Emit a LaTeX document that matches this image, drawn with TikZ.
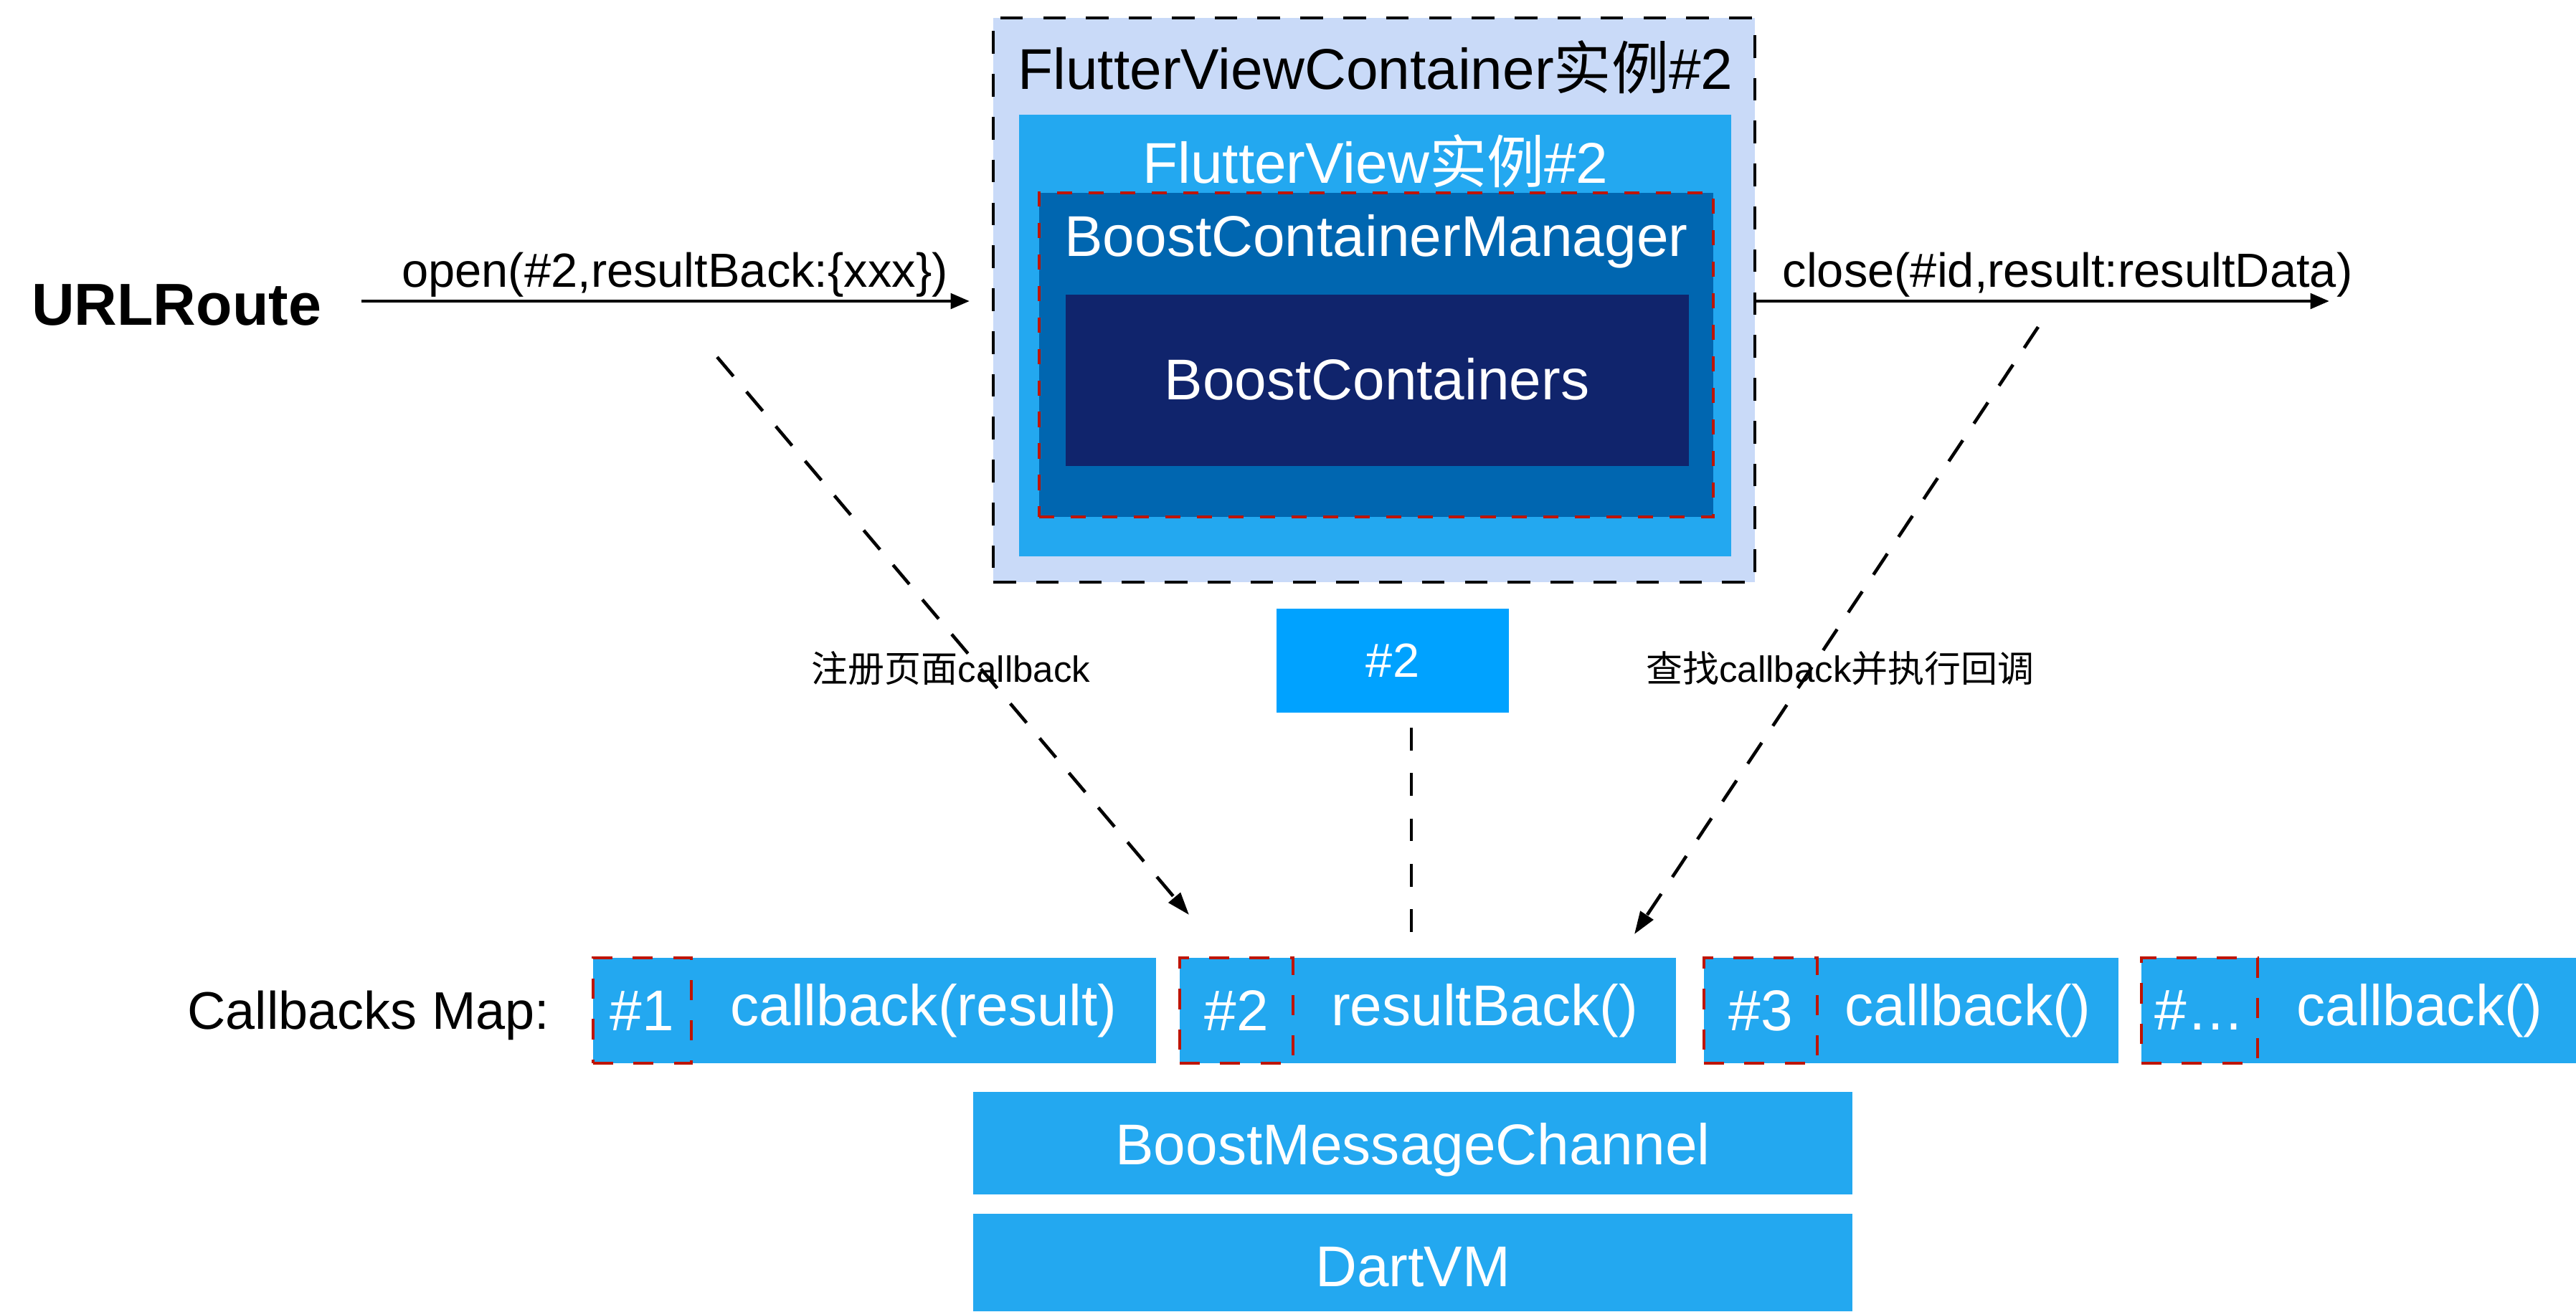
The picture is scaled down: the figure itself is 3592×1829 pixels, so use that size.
\documentclass[tikz,border=0pt]{standalone}
\usepackage{fontspec}
\setmainfont{Liberation Sans}
\newfontfamily\cjk{Noto Sans CJK SC}
\usetikzlibrary{arrows.meta,fit}
\definecolor{outerbg}{RGB}{201,218,248}
\definecolor{fvblue}{RGB}{35,168,240}
\definecolor{mgrblue}{RGB}{0,102,176}
\definecolor{navyblue}{RGB}{16,36,108}
\definecolor{idblue}{RGB}{0,162,255}
\definecolor{reddash}{RGB}{190,20,0}
\begin{document}
\begin{tikzpicture}[x=0.01cm,y=-0.01cm,
  every node/.style={inner sep=0pt,outer sep=0pt},
  big/.style={font=\fontsize{22.8}{26}\selectfont},
  mid/.style={font=\fontsize{19}{22}\selectfont},
  small/.style={font=\fontsize{14.5}{17}\selectfont},
  outerbox/.style={fill=outerbg,draw=black,line width=1.2pt,dash pattern=on 9pt off 8pt},
  fvbox/.style={fill=fvblue,draw=none},
  mgrbox/.style={fill=mgrblue,draw=reddash,line width=1.1pt,dash pattern=on 6pt off 6.5pt},
  navybox/.style={fill=navyblue,draw=none},
  idbox/.style={fill=idblue,draw=none},
  rowbox/.style={fill=fvblue,draw=none},
  keybox/.style={draw=reddash,line width=1.1pt,dash pattern=on 8pt off 8pt},
  wtext/.style={text=white,big},
  solidarrow/.style={line width=1.4pt,-{Triangle[length=7.5pt,width=6pt]}},
  dasharrow/.style={line width=1.3pt,dash pattern=on 10pt off 8pt,-{Triangle[length=9pt,width=6pt]}},
  dashline/.style={line width=1.2pt,dash pattern=on 9pt off 9pt}
]
\useasboundingbox (0,0) rectangle (3592,1829);

% container
\node[outerbox,fit={(1385,25)(2447,812)}] (fvc) {};
\node[big,anchor=base] (fvct) at (1918,124) {FlutterViewContainer{\cjk 实例}\#2};
\node[fvbox,fit={(1421,160)(2414,776)}] (fv) {};
\node[big,anchor=base,text=white] (fvt) at (1918,255) {FlutterView{\cjk 实例}\#2};
\node[mgrbox,fit={(1449,269)(2389,721)}] (mgr) {};
\node[big,anchor=base,text=white] (mgrt) at (1919,357) {BoostContainerManager};
\node[navybox,fit={(1486,411)(2355,650)}] (bcs) {};
\node[big,anchor=base,text=white] (bcst) at (1920,557) {BoostContainers};

% URLRoute and top arrows
\node[font=\fontsize{23.5}{26}\selectfont\bfseries,anchor=base] (url) at (246,453) {URLRoute};
\coordinate (openA) at (504,420);
\coordinate (openB) at (1352,420);
\draw[solidarrow] (openA) -- (openB);
\node[mid,anchor=base] (openlab) at (941,400) {open(\#2,resultBack:\{xxx\})};
\coordinate (closeA) at (2449,420);
\coordinate (closeB) at (3248,420);
\draw[solidarrow] (closeA) -- (closeB);
\node[mid,anchor=base] (closelab) at (2883,400) {close(\#id,result:resultData)};

% dashed arrows
\coordinate (regA) at (1000,498);
\coordinate (regB) at (1658,1276);
\draw[dasharrow] (regA) -- (regB);
\node[small] (reglab) at (1326,932) {{\cjk 注册页面}callback};
\coordinate (findA) at (2842,456);
\coordinate (findB) at (2279,1303);
\draw[dasharrow] (findA) -- (findB);
\node[small] (findlab) at (2566,932) {{\cjk 查找}callback{\cjk 并执行回调}};

% #2 id box
\node[idbox,fit={(1780,849)(2104,994)}] (id) {};
\node[mid,text=white] (idt) at (id.center) {\#2};
\coordinate (idA) at (1968,1015);
\coordinate (idB) at (1968,1305);
\draw[dashline] (idA) -- (idB);

% callbacks map
\node[font=\fontsize{21}{24}\selectfont,anchor=base] (cbm) at (514,1435) {Callbacks Map:};

\node[rowbox,fit={(827,1336)(1612,1483)}] (r1) {};
\node[keybox,fit={(827,1336)(964,1483)}] (k1) {};
\node[wtext] (k1t) at (k1.center) {\#1};
\node[wtext] (v1) at (1288,1410) {callback(result)};

\node[rowbox,fit={(1645,1336)(2337,1483)}] (r2) {};
\node[keybox,fit={(1645,1336)(1803,1483)}] (k2) {};
\node[wtext] (k2t) at (k2.center) {\#2};
\node[wtext] (v2) at (2070,1410) {resultBack()};

\node[rowbox,fit={(2376,1336)(2954,1483)}] (r3) {};
\node[keybox,fit={(2376,1336)(2534,1483)}] (k3) {};
\node[wtext] (k3t) at (k3.center) {\#3};
\node[wtext] (v3) at (2744,1410) {callback()};

\node[rowbox,fit={(2986,1336)(3592,1483)}] (r4) {};
\node[keybox,fit={(2986,1336)(3148,1483)}] (k4) {};
\node[wtext] (k4t) at (k4.center) {\#…};
\node[wtext] (v4) at (3374,1410) {callback()};

% bottom stack
\node[rowbox,fit={(1357,1523)(2583,1666)}] (bmc) {};
\node[big,anchor=base,text=white] (bmct) at (1970,1624) {BoostMessageChannel};
\node[rowbox,fit={(1357,1693)(2583,1829)}] (dvm) {};
\node[big,anchor=base,text=white] (dvmt) at (1970,1794) {DartVM};
\end{tikzpicture}
\end{document}
